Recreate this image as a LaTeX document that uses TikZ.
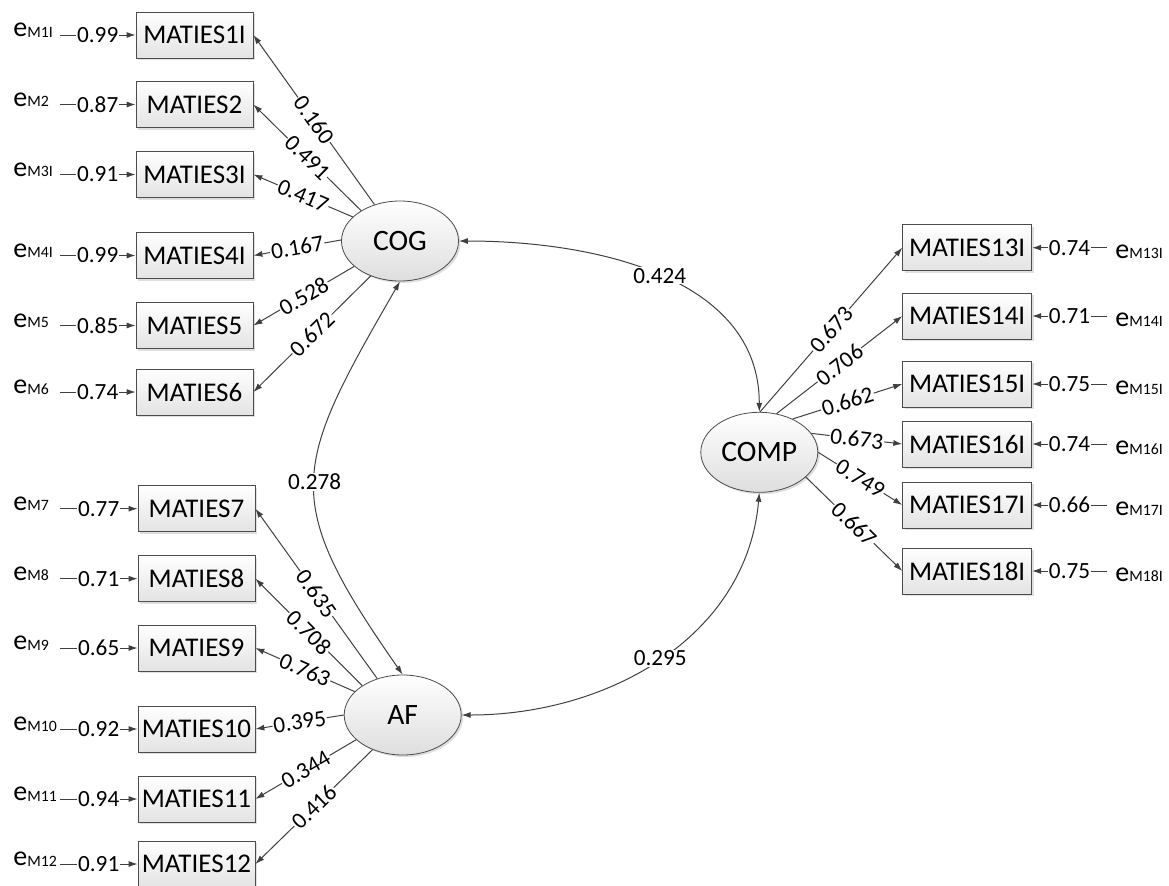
\documentclass[tikz,border=0pt]{standalone}
\usepackage{fontspec}
\setmainfont{Carlito}
\usetikzlibrary{shapes.geometric,arrows.meta,shadows}
\newcommand{\ev}[1]{e\raisebox{-0.4pt}{\fontsize{7.9}{8}\selectfont #1}}

\begin{document}
\begin{tikzpicture}[x=0.5pt,y=-0.5pt,
obs/.style={draw=black!70,top color=white,bottom color=black!11,minimum width=58.5pt,minimum height=23pt,inner sep=0pt,font=\fontsize{13.5}{14}\selectfont,drop shadow={shadow xshift=1pt,shadow yshift=-1pt,opacity=0.25}},
obsr/.style={obs,minimum width=64.5pt},
lat/.style={ellipse,draw=black!70,top color=white,bottom color=black!13,minimum width=58.5pt,minimum height=40pt,inner sep=0pt,font=\fontsize{14.8}{16}\selectfont,drop shadow={shadow xshift=1pt,shadow yshift=-1pt,opacity=0.25}},
errl/.style={anchor=base west,text width=23pt,align=left,inner sep=0pt,font=\fontsize{14}{14}\selectfont},
errr/.style={anchor=base west,inner xsep=4pt,inner ysep=0pt,font=\fontsize{14}{14}\selectfont},
arr/.style={draw=black!75,line width=0.5pt,-{Latex[length=4.5pt,width=3pt]}},
cov/.style={draw=black!75,line width=0.5pt,{Latex[length=4.5pt,width=3pt]}-{Latex[length=4.5pt,width=3pt]}},
lbl/.style={fill=white,inner sep=0.5pt,font=\fontsize{11.6}{12}\selectfont}]
\useasboundingbox (0,0) rectangle (1169,885);

\node[lat] (cog) at (400,241) {COG};
\node[lat] (af) at (402.7,715) {AF};
\node[lat] (comp) at (759.3,452.3) {COMP};

\node[obs] (m1) at (194.5,35) {MATIES1I};
\node[obs] (m2) at (194.5,104.5) {MATIES2};
\node[obs] (m3) at (194.5,174.5) {MATIES3I};
\node[obs] (m4) at (194.5,255.5) {MATIES4I};
\node[obs] (m5) at (194.5,325.5) {MATIES5};
\node[obs] (m6) at (194.5,392) {MATIES6};
\node[obs] (m7) at (196.5,508.7) {MATIES7};
\node[obs] (m8) at (196.5,578.7) {MATIES8};
\node[obs] (m9) at (196.5,648) {MATIES9};
\node[obs] (m10) at (196.5,729) {MATIES10};
\node[obs] (m11) at (196.5,799) {MATIES11};
\node[obs] (m12) at (196.5,864) {MATIES12};
\node[obsr] (m13) at (967.2,247.7) {MATIES13I};
\node[obsr] (m14) at (967.2,316) {MATIES14I};
\node[obsr] (m15) at (967.2,384) {MATIES15I};
\node[obsr] (m16) at (967.2,444) {MATIES16I};
\node[obsr] (m17) at (967.2,505) {MATIES17I};
\node[obsr] (m18) at (967.2,571) {MATIES18I};

\node[errl] (e1) at (13,36.5) {\ev{M1I}};
\node[errl] (e2) at (13,106) {\ev{M2}};
\node[errl] (e3) at (13,176) {\ev{M3I}};
\node[errl] (e4) at (13,257) {\ev{M4I}};
\node[errl] (e5) at (13,327) {\ev{M5}};
\node[errl] (e6) at (13,393.5) {\ev{M6}};
\node[errl] (e7) at (13,510) {\ev{M7}};
\node[errl] (e8) at (13,580) {\ev{M8}};
\node[errl] (e9) at (13,649.5) {\ev{M9}};
\node[errl] (e10) at (13,730.5) {\ev{M10}};
\node[errl] (e11) at (13,800.5) {\ev{M11}};
\node[errl] (e12) at (13,865.5) {\ev{M12}};
\node[errr] (e13) at (1107,258) {\ev{M13I}};
\node[errr] (e14) at (1107,326) {\ev{M14I}};
\node[errr] (e15) at (1107,394) {\ev{M15I}};
\node[errr] (e16) at (1107,454) {\ev{M16I}};
\node[errr] (e17) at (1107,515) {\ev{M17I}};
\node[errr] (e18) at (1107,581) {\ev{M18I}};

\draw[arr] (e1.east |- m1) -- node[lbl]{0.99} (m1.west);
\draw[arr] (e2.east |- m2) -- node[lbl]{0.87} (m2.west);
\draw[arr] (e3.east |- m3) -- node[lbl]{0.91} (m3.west);
\draw[arr] (e4.east |- m4) -- node[lbl]{0.99} (m4.west);
\draw[arr] (e5.east |- m5) -- node[lbl]{0.85} (m5.west);
\draw[arr] (e6.east |- m6) -- node[lbl]{0.74} (m6.west);
\draw[arr] (e7.east |- m7) -- node[lbl]{0.77} (m7.west);
\draw[arr] (e8.east |- m8) -- node[lbl]{0.71} (m8.west);
\draw[arr] (e9.east |- m9) -- node[lbl]{0.65} (m9.west);
\draw[arr] (e10.east |- m10) -- node[lbl]{0.92} (m10.west);
\draw[arr] (e11.east |- m11) -- node[lbl]{0.94} (m11.west);
\draw[arr] (e12.east |- m12) -- node[lbl]{0.91} (m12.west);
\draw[arr] (e13.west |- m13) -- node[lbl]{0.74} (m13.east);
\draw[arr] (e14.west |- m14) -- node[lbl]{0.71} (m14.east);
\draw[arr] (e15.west |- m15) -- node[lbl]{0.75} (m15.east);
\draw[arr] (e16.west |- m16) -- node[lbl]{0.74} (m16.east);
\draw[arr] (e17.west |- m17) -- node[lbl]{0.66} (m17.east);
\draw[arr] (e18.west |- m18) -- node[lbl]{0.75} (m18.east);

\draw[arr] (cog.125) -- node[lbl,sloped]{0.160} (m1.east);
\draw[arr] (cog.142) -- node[lbl,sloped]{0.491} (m2.east);
\draw[arr] (cog.153) -- node[lbl,sloped]{0.417} (m3.east);
\draw[arr] (cog.179) -- node[lbl,sloped]{0.167} (m4.east);
\draw[arr] (cog.209) -- node[lbl,sloped]{0.528} (m5.east);
\draw[arr] (cog.230) -- node[lbl,sloped]{0.672} (m6.east);
\draw[arr] (af.125) -- node[lbl,sloped]{0.635} (m7.east);
\draw[arr] (af.144) -- node[lbl,sloped]{0.708} (m8.east);
\draw[arr] (af.154) -- node[lbl,sloped]{0.763} (m9.east);
\draw[arr] (af.180) -- node[lbl,sloped]{0.395} (m10.east);
\draw[arr] (af.208) -- node[lbl,sloped]{0.344} (m11.east);
\draw[arr] (af.229) -- node[lbl,sloped]{0.416} (m12.east);
\draw[arr] (comp.89) -- node[lbl,sloped]{0.673} (m13.west);
\draw[arr] (comp.66) -- node[lbl,sloped]{0.706} (m14.west);
\draw[arr] (comp.45) -- node[lbl,sloped]{0.662} (m15.west);
\draw[arr] (comp.20) -- node[lbl,sloped]{0.673} (m16.west);
\draw[arr] (comp.0) -- node[lbl,sloped]{0.749} (m17.west);
\draw[arr] (comp.-28) -- node[lbl,sloped]{0.667} (m18.west);

\draw[cov] (cog.east) to[out=0,in=90] node[lbl]{0.424} (comp.north);
\draw[cov] (cog.south) to[out=-120,in=125,looseness=1.4] node[lbl]{0.278} (af.north);
\draw[cov] (af.east) to[out=0,in=-95] node[lbl]{0.295} (comp.south);
\end{tikzpicture}
\end{document}
